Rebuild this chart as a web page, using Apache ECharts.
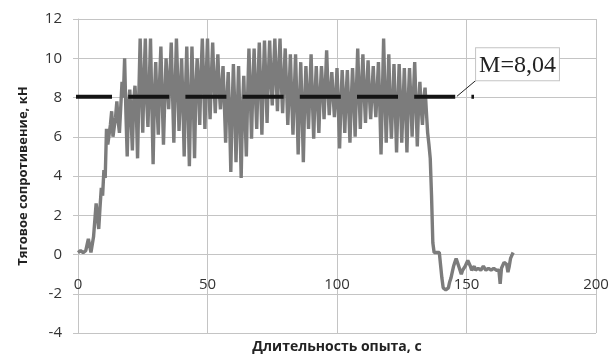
<!DOCTYPE html>
<html>
<head>
<meta charset="utf-8">
<script src="https://cdn.jsdelivr.net/npm/echarts@6/dist/echarts.min.js"></script>
<style>
html,body{margin:0;padding:0;background:#fff;}
#chart{width:614px;height:356px;}
</style>
</head>
<body>
<div id="chart"></div>
<script>
// Traction force (kN), one value every 0.5 s starting at 0 s
var timeStep = 0.5;
var force = [
  0.1, 0.1, 0.2, 0.1, 0.1, 0.2, 0.2, 0.2, 0.8, 0.8,
  0.1, 0.2, 0.9, 1.0, 2.6, 2.5, 1.3, 2.4, 3.4, 3.0,
  4.3, 3.9, 6.4, 5.6, 5.7, 6.6, 7.3, 6.0, 5.9, 7.0,
  7.8, 6.8, 6.2, 7.5, 8.8, 8.0, 10.0, 7.2, 5.0, 7.6,
  8.4, 6.9, 5.3, 7.8, 8.6, 7.4, 4.9, 8.2, 11.0, 8.5,
  6.2, 9.0, 11.0, 7.9, 6.5, 8.6, 11.0, 7.7, 4.6, 8.1,
  9.8, 7.6, 6.1, 8.8, 10.6, 8.0, 5.6, 7.9, 10.0, 8.7,
  7.4, 9.1, 10.8, 8.2, 5.7, 8.4, 11.0, 8.9, 6.3, 8.0,
  10.0, 7.8, 5.0, 8.3, 10.6, 7.5, 4.5, 7.9, 10.6, 8.1,
  4.9, 8.4, 10.0, 8.6, 6.6, 9.2, 11.0, 8.8, 6.4, 9.0,
  11.0, 8.5, 6.9, 9.1, 10.8, 8.7, 7.2, 8.9, 10.2, 8.4,
  7.4, 8.6, 9.6, 7.7, 5.7, 7.9, 9.3, 7.1, 4.2, 7.4,
  9.7, 7.6, 4.7, 7.2, 9.6, 6.9, 3.9, 7.3, 9.1, 7.0,
  5.0, 8.1, 10.5, 8.3, 5.9, 8.6, 10.5, 8.2, 6.4, 8.8,
  10.8, 8.5, 6.1, 8.7, 10.9, 8.9, 6.7, 9.1, 10.9, 9.0,
  7.6, 9.3, 11.0, 9.1, 7.3, 9.4, 11.0, 8.8, 7.2, 8.9,
  10.5, 8.6, 6.6, 8.3, 10.2, 8.0, 6.1, 8.2, 10.2, 7.8,
  5.1, 7.6, 9.8, 7.5, 4.7, 7.7, 9.6, 8.0, 6.4, 8.3,
  10.2, 7.9, 5.9, 8.1, 9.6, 7.8, 6.2, 8.2, 9.6, 8.4,
  6.9, 8.6, 10.4, 8.5, 7.1, 8.3, 9.3, 8.1, 7.0, 8.0,
  9.5, 7.6, 5.4, 7.7, 9.4, 7.9, 6.2, 8.1, 9.4, 7.6,
  5.7, 7.8, 9.5, 8.0, 6.0, 8.4, 10.5, 8.3, 6.4, 8.6,
  10.2, 8.2, 6.7, 8.5, 9.9, 8.1, 6.9, 8.3, 9.6, 8.0,
  7.0, 8.4, 9.8, 7.7, 5.1, 8.0, 11.0, 8.2, 5.7, 7.9,
  10.2, 7.6, 5.9, 7.8, 9.7, 7.5, 5.2, 7.7, 9.7, 7.9,
  5.7, 7.6, 9.5, 7.4, 5.2, 7.8, 9.5, 7.9, 6.0, 8.1,
  9.8, 7.7, 5.5, 7.6, 8.8, 7.5, 6.6, 7.9, 8.5, 7.3,
  6.2, 5.6, 4.9, 3.0, 0.6, 0.1, 0.1, 0.1, 0.1, 0.1,
  0.1, -1.2, -1.7, -1.8, -1.8, -1.7, -1.7, -1.4, -1.2, -0.9,
  -0.6, -0.4, -0.2, -0.4, -0.6, -0.8, -1.0, -0.8, -0.7, -0.6,
  -0.5, -0.3, -0.2, -0.6, -0.8, -0.7, -0.6, -0.8, -0.9, -0.7,
  -0.7, -0.8, -0.8, -0.6, -0.6, -0.8, -0.9, -0.7, -0.7, -0.8,
  -0.8, -0.7, -0.7, -0.8, -0.9, -0.8, -1.5, -0.7, -0.6, -0.4,
  -0.3, -0.5, -0.9, -0.6, -0.2, -0.1, 0.1
];

// Mean value line
var meanValue = 8.04;
var meanX = [-2.7, 146.3, 152.9];
var meanLabel = 'M=8,04';
// Leader line from the mean line to the label box
var leaderX = [146.3, 153.7];
var leaderY = [8.06, 8.88];

var xTicks = {min: 0, max: 200, interval: 50};
var yTicks = {min: -4, max: 12, interval: 2};
var xTitle = 'Длительность опыта, с';
var yTitle = 'Тяговое сопротивение, кН';

var forceData = force.map(function (v, i) { return [i * timeStep, v]; });
var meanData = meanX.map(function (x) { return [x, meanValue]; });
var leaderData = leaderX.map(function (x, i) {
  var d = {value: [x, leaderY[i]]};
  if (i === leaderX.length - 1) {
    d.label = {
      show: true,
      formatter: meanLabel,
      position: [0, 0],
      align: 'left',
      verticalAlign: 'bottom',
      fontFamily: '"Liberation Serif", "DejaVu Serif", serif',
      fontSize: 24,
      color: '#222',
      backgroundColor: '#fff',
      borderColor: '#c4c4c4',
      borderWidth: 1,
      padding: [5, 3, 3, 3]
    };
  }
  return d;
});

var gridTop = 19, gridBottom = 23, chartH = 356;
var plotH = chartH - gridTop - gridBottom;
// distance from the bottom of the plot up to the zero line
var zeroOffset = plotH * (0 - yTicks.min) / (yTicks.max - yTicks.min);

var grid = '#c4c4c4';
var chart = echarts.init(document.getElementById('chart'), null, {renderer: 'canvas'});
chart.setOption({
  animation: false,
  backgroundColor: '#fff',
  grid: {left: 78, right: 18, top: gridTop, bottom: gridBottom, containLabel: false, outerBoundsMode: 'none'},
  xAxis: {
    type: 'value',
    position: 'bottom',
    offset: -zeroOffset,
    min: xTicks.min, max: xTicks.max, interval: xTicks.interval,
    name: xTitle,
    nameLocation: 'middle',
    nameGap: 86,
    nameTextStyle: {fontFamily: '"Open Sans", sans-serif', fontWeight: 'bold', fontSize: 14, color: '#222'},
    axisLine: {onZero: false, lineStyle: {color: grid, width: 1}},
    axisTick: {show: false},
    axisLabel: {margin: 23, fontFamily: '"Open Sans", sans-serif', fontSize: 15, color: '#333'},
    splitLine: {show: true, lineStyle: {color: grid, width: 1}}
  },
  yAxis: {
    type: 'value',
    min: yTicks.min, max: yTicks.max, interval: yTicks.interval,
    name: yTitle,
    nameLocation: 'middle',
    nameGap: 48,
    nameRotate: 90,
    nameTextStyle: {fontFamily: '"Open Sans", sans-serif', fontWeight: 'bold', fontSize: 13, color: '#222'},
    axisLine: {show: true, lineStyle: {color: grid, width: 1}},
    axisTick: {show: true, length: 5, lineStyle: {color: grid}},
    axisLabel: {margin: 16, fontFamily: '"Open Sans", sans-serif', fontSize: 15, color: '#333'},
    splitLine: {show: true, lineStyle: {color: grid, width: 1}}
  },
  series: [
    {
      type: 'line',
      data: forceData,
      smooth: false,
      showSymbol: false,
      lineStyle: {color: '#7c7c7c', width: 3.4},
      z: 2
    },
    {
      type: 'line',
      data: meanData,
      smooth: false,
      showSymbol: false,
      clip: false,
      lineStyle: {color: '#141414', width: 4, type: [41, 16.2], cap: 'butt'},
      z: 3
    },
    {
      type: 'line',
      data: leaderData,
      smooth: false,
      symbol: 'circle',
      symbolSize: 0.01,
      showSymbol: true,
      clip: false,
      itemStyle: {color: '#222'},
      lineStyle: {color: '#222', width: 1},
      z: 4
    }
  ]
});
</script>
</body>
</html>
